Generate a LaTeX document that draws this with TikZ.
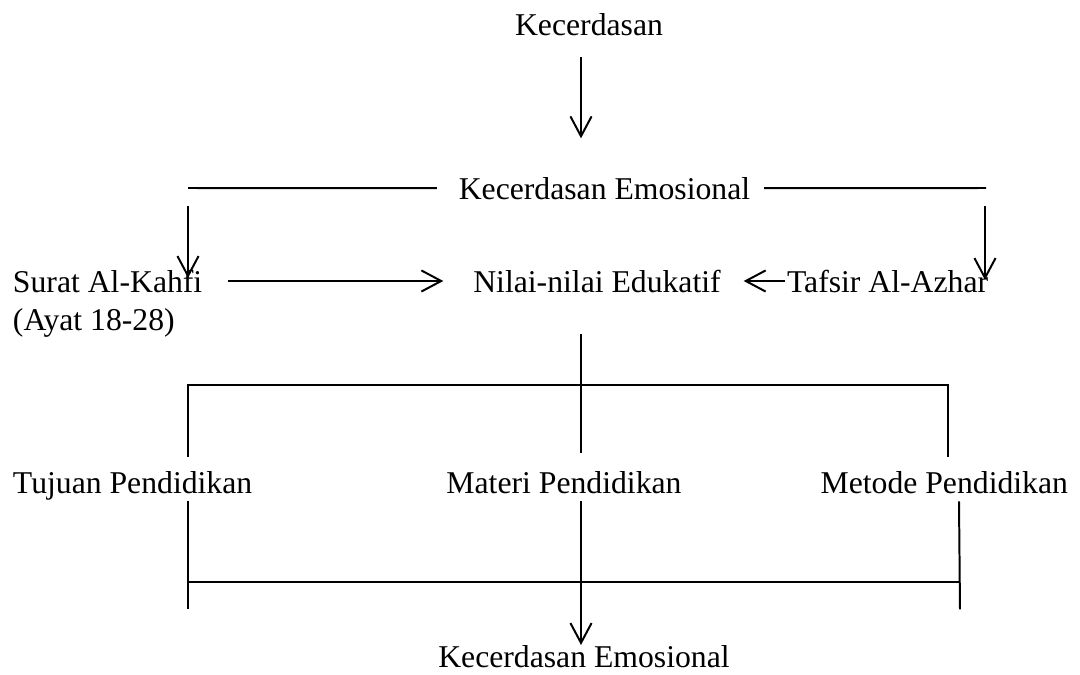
\documentclass[tikz,border=0pt]{standalone}
\usepackage{fontspec}
\setmainfont{Liberation Serif}
\usetikzlibrary{arrows.meta,calc}
\newlength{\px}\setlength{\px}{0.3785pt}

\begin{document}
\begin{tikzpicture}[x=0.3785pt,y=-0.3785pt,>={Straight Barb[length=7.5pt,width=8pt]},line width=0.75pt,
    lbl/.style={inner sep=0,outer sep=0,font=\fontsize{12}{14.4}\selectfont}]
                \useasboundingbox (0,0) rectangle (1080,675);
                \node[lbl,anchor=base] at (589,35) (kec) {Kecerdasan};
                \node[lbl,anchor=base] at (604.5,199) (emo) {Kecerdasan Emosional};
                \node[lbl,anchor=base west] at (13,292) (surat) {Surat Al-Kahfi};
                \node[lbl,anchor=base west] at (13,330) (ayat) {(Ayat 18-28)};
                \node[lbl,anchor=base] at (597,292) (nilai) {Nilai-nilai Edukatif};
                \node[lbl,anchor=base west] at (787,292) (tafsir) {Tafsir Al-Azhar};
                \node[lbl,anchor=base west] at (13,493) (tujuan) {Tujuan Pendidikan};
                \node[lbl,anchor=base] at (564,493) (materi) {Materi Pendidikan};
                \node[lbl,anchor=base east] at (1068,493) (metode) {Metode Pendidikan};
                \node[lbl,anchor=base] at (584,667) (hasil) {Kecerdasan Emosional};
                \coordinate (kl) at (188,188);
                \coordinate (kr) at (986,188);
                \coordinate (bl) at (188,385);
                \coordinate (bm) at (581,385);
                \coordinate (br) at (948,385);
                \coordinate (cl) at (188,582);
                \coordinate (cm) at (581,582);
                \coordinate (cr) at (960,582);

                \draw[->] ($(kec.south)+(-8,22)$) -- +(0,81);
                \draw ($(emo.west)+(-22,0)$) -- (kl);
                \draw ($(emo.east)+(14,0)$) -- (kr);
                \draw[->] (kl) ++(0,18) -- ++(0,72);
                \draw[->] (kr) ++(-1,18) -- ++(0,74);
                \draw[->,shorten <=26\px,shorten >=30\px] (surat.east) -- (nilai.west);
                \draw[->,shorten <=2\px,shorten >=23\px] (tafsir.west) -- (nilai.east);
                \draw ($(bm |- nilai.south)+(0,42)$) -- ($(materi.north -| bm)+(0,-18)$);
                \draw ($(tujuan.north -| bl)+(0,-14)$) -- (bl) -- (br) -- ($(metode.north -| br)+(0,-14)$);
                \draw ($(tujuan.south -| cl)+(0,1)$) -- ++(0,108);
                \draw ($(metode.south -| cr)+(-1,8)$) -- ++(1,108);
                \draw (cl) -- (cr);
                \draw[->] ($(materi.south -| cm)+(0,8)$) -- (hasil.north -| cm);
            \end{tikzpicture}
\end{document}
